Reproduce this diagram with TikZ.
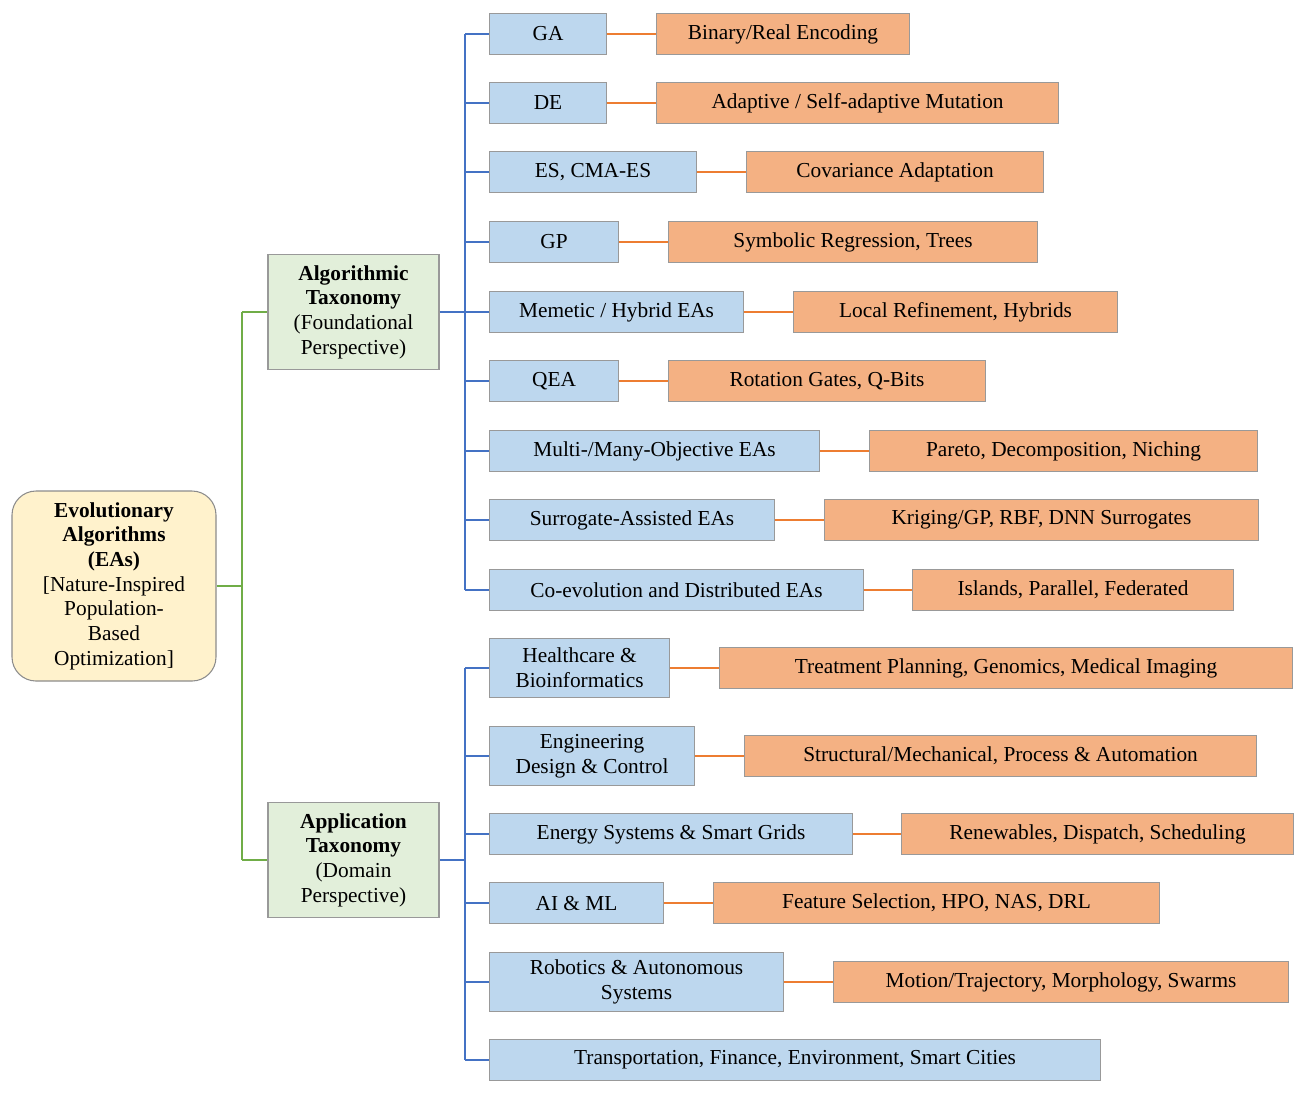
\documentclass[tikz,border=0pt]{standalone}
\usepackage{fontspec}
\setmainfont{Liberation Serif}
\begin{document}
\begin{tikzpicture}[x=0.75pt,y=-0.75pt,
 every node/.style={font=\fontsize{16}{18.5}\selectfont, inner sep=1pt, align=center},
 bx/.style={draw=black!40, line width=0.8pt, minimum height=41*0.75pt, anchor=west, minimum width=#1*0.75pt},
 ch/.style={bx=#1, fill=blue!20!cyan!25!white, fill=blueF},
 lf/.style={bx=#1, fill=orangeF},
 hd/.style={draw=black!40, line width=0.8pt, fill=greenF, minimum width=171*0.75pt, minimum height=115*0.75pt},
 bl/.style={draw=blueL, line width=1.3pt},
 ol/.style={draw=orangeL, line width=1.3pt},
 gl/.style={draw=greenL, line width=1.3pt}]
\definecolor{blueF}{HTML}{BDD7EE}
\definecolor{orangeF}{HTML}{F4B183}
\definecolor{greenF}{HTML}{E2EFDA}
\definecolor{yellowF}{HTML}{FFF2CC}
\definecolor{blueL}{HTML}{4472C4}
\definecolor{orangeL}{HTML}{ED7D31}
\definecolor{greenL}{HTML}{70AD47}
\useasboundingbox (0,0) rectangle (1305,1093);
\node[draw=black!45, line width=0.8pt, fill=yellowF, rounded corners=18pt, minimum width=204*0.75pt, minimum height=190*0.75pt] (root) at (114,586) {\textbf{Evolutionary}\\\textbf{Algorithms}\\\textbf{(EAs)}\\{}[Nature-Inspired\\Population-\\Based\\Optimization]};
\node[hd] (alg) at (353.5,312) {\textbf{Algorithmic}\\\textbf{Taxonomy}\\(Foundational\\Perspective)};
\node[hd] (app) at (353.5,860) {\textbf{Application}\\\textbf{Taxonomy}\\(Domain\\Perspective)};
\coordinate (g) at (242,586);
\draw[gl] (root.east) -- (g);
\draw[gl] (g|-alg.west) -- (g|-app.west);
\draw[gl] (g|-alg.west) -- (alg.west);
\draw[gl] (g|-app.west) -- (app.west);
% algorithmic children
\node[ch=117] (c1) at (489,34) {GA};
\node[ch=117] (c2) at (489,103) {DE};
\node[ch=207] (c3) at (489,172) {ES, CMA-ES};
\node[ch=129] (c4) at (489,242) {GP};
\node[ch=254] (c5) at (489,312) {Memetic / Hybrid EAs};
\node[ch=129] (c6) at (489,381) {QEA};
\node[ch=330] (c7) at (489,451) {Multi-/Many-Objective EAs};
\node[ch=285] (c8) at (489,520) {Surrogate-Assisted EAs};
\node[ch=374] (c9) at (489,590) {Co-evolution and Distributed EAs};
\node[lf=253] (d1) at (656,34) {Binary/Real Encoding};
\node[lf=402] (d2) at (656,103) {Adaptive / Self-adaptive Mutation};
\node[lf=297] (d3) at (746,172) {Covariance Adaptation};
\node[lf=369] (d4) at (668,242) {Symbolic Regression, Trees};
\node[lf=324] (d5) at (793,312) {Local Refinement, Hybrids};
\node[lf=317] (d6) at (668,381) {Rotation Gates, Q-Bits};
\node[lf=388] (d7) at (869,451) {Pareto, Decomposition, Niching};
\node[lf=434] (d8) at (824,520) {Kriging/GP, RBF, DNN Surrogates};
\node[lf=321] (d9) at (912,590) {Islands, Parallel, Federated};
\coordinate (a) at (465,312);
\draw[bl] (alg.east) -- (a);
\draw[bl] (a|-c1.west) -- (a|-c9.west);
\foreach \i in {1,...,9}{
 \draw[bl] (a|-c\i.west) -- (c\i.west);
 \draw[ol] (c\i.east) -- (d\i.west);
}
% application children
\node[ch=180, minimum height=59*0.75pt] (e1) at (489,668) {Healthcare \&\\Bioinformatics};
\node[ch=205, minimum height=59*0.75pt] (e2) at (489,756) {Engineering\\Design \& Control};
\node[ch=363] (e3) at (489,834) {Energy Systems \& Smart Grids};
\node[ch=174] (e4) at (489,903) {AI \& ML};
\node[ch=294, minimum height=59*0.75pt] (e5) at (489,982) {Robotics \& Autonomous\\Systems};
\node[ch=611] (e6) at (489,1060) {Transportation, Finance, Environment, Smart Cities};
\node[lf=573] (f1) at (719,668) {Treatment Planning, Genomics, Medical Imaging};
\node[lf=512] (f2) at (744,756) {Structural/Mechanical, Process \& Automation};
\node[lf=392] (f3) at (901,834) {Renewables, Dispatch, Scheduling};
\node[lf=446] (f4) at (713,903) {Feature Selection, HPO, NAS, DRL};
\node[lf=455] (f5) at (833,982) {Motion/Trajectory, Morphology, Swarms};
\coordinate (b) at (465,860);
\draw[bl] (app.east) -- (b);
\draw[bl] (b|-e1.west) -- (b|-e6.west);
\foreach \i in {1,...,6}{ \draw[bl] (b|-e\i.west) -- (e\i.west); }
\foreach \i in {1,...,5}{ \draw[ol] (e\i.east) -- (f\i.west); }
\end{tikzpicture}
\end{document}
